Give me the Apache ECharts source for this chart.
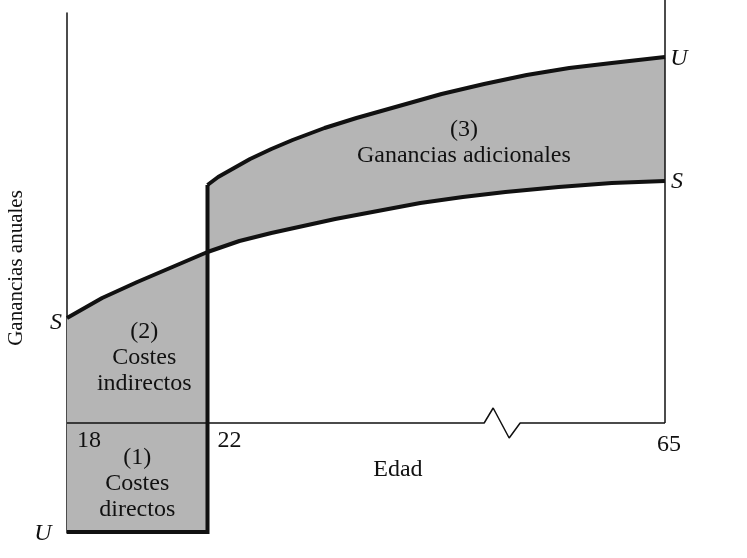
<!DOCTYPE html>
<html lang="es">
<head>
<meta charset="utf-8">
<title>Ganancias anuales por edad</title>
<script src="https://cdn.jsdelivr.net/npm/echarts@6.0.0/dist/echarts.min.js"></script>
<style>
  html, body { margin: 0; padding: 0; background: #fff; }
  #chart { width: 747px; height: 558px; }
</style>
</head>
<body>
<div id="chart"></div>
<script>
// edades marcadas en el eje horizontal
const tickAges = [18, 22, 65];
const ageAxisName = 'Edad';
const ageAxisNameAt = 39.9;

// perfil S: trabaja desde los 18
const sAges = [18, 19, 20, 21, 22, 25, 28, 31, 34, 38, 42, 46, 50, 55, 60, 65];
const sEarnings = [10.5, 12.5, 14.1, 15.6, 17.1, 18.2, 19.0, 19.7, 20.4, 21.2, 22.0, 22.6, 23.1, 23.6, 24.0, 24.2];

// perfil U: estudia de 18 a 22 (costes directos) y luego trabaja
const uAges = [22, 23, 24, 26, 28, 30, 33, 36, 40, 44, 48, 52, 56, 60, 65];
const uEarnings = [23.8, 24.6, 25.2, 26.4, 27.4, 28.3, 29.5, 30.5, 31.7, 32.9, 33.9, 34.8, 35.5, 36.0, 36.6];
const directCost = -10.9;

const regionLabels = ['(1)\nCostes\ndirectos', '(2)\nCostes\nindirectos', '(3)\nGanancias adicionales'];
const regionAges = [20.0, 20.2, 46.1];
const regionValues = [-6.1, 6.55, 28.0];

const tagLabels = ['S', 'U', 'U', 'S'];

// the age axis is broken: 18-22 drawn wide, 22-65 squeezed
const studyWidth = 140.5;
const workWidth = 457.5;
const breakAge = 49.6;

const [startAge, gradAge, retireAge] = tickAges;

function agePos(age) {
  if (age <= gradAge) {
    return ((age - startAge) / (gradAge - startAge)) * studyWidth;
  }
  return studyWidth + ((age - gradAge) / (retireAge - gradAge)) * workWidth;
}

const ink = '#111111';
const fill = '#b5b5b5';
const serif = 'Liberation Serif';

const sLine = sAges.map((age, i) => [agePos(age), sEarnings[i]]);
const uLine = uAges.map((age, i) => [agePos(age), uEarnings[i]]);
const sStudy = sLine.filter((_, i) => sAges[i] <= gradAge);
const sWork = sLine.filter((_, i) => sAges[i] >= gradAge);
const x0 = agePos(startAge);
const xGrad = agePos(gradAge);
const xEnd = agePos(retireAge);

const regions = [
  [[x0, 0], [xGrad, 0], [xGrad, directCost], [x0, directCost]],
  [...sStudy, [xGrad, 0], [x0, 0]],
  [...uLine, ...sWork.slice().reverse()],
];

// zigzag on the age axis, offsets in axis units
const zigDx = [-17, -8, 8, 19];
const zigDy = [0, 1.5, -1.5, 0];
const breakPos = agePos(breakAge);
const axisLine = [
  [x0, 0],
  ...zigDx.map((dx, i) => [breakPos + dx, zigDy[i]]),
  [xEnd, 0],
];

const tickOffsets = [[22, 18], [22, 18], [4, 22], [0, 47]];
const tagPoints = [
  [x0, sEarnings[0]],
  [x0, directCost],
  [xEnd, uEarnings[uEarnings.length - 1]],
  [xEnd, sEarnings[sEarnings.length - 1]],
];
const tagOffsets = [[-11, 5], [-24, 2], [14, 2], [12, 1]];

const chart = echarts.init(document.getElementById('chart'));

const labelSeries = (points, texts, offsets, extra) => ({
  type: 'scatter',
  silent: true,
  symbolSize: 0,
  itemStyle: { color: 'transparent', opacity: 1 },
  data: points.map((p, i) => ({
    value: p,
    label: {
      formatter: texts[i],
      offset: offsets ? offsets[i] : [0, 0],
    },
  })),
  label: {
    show: true,
    position: 'inside',
    color: ink,
    opacity: 1,
    fontFamily: serif,
    fontSize: 24,
    ...extra,
  },
  z: 6,
});

const curve = (name, data) => ({
  type: 'line',
  name,
  silent: true,
  data,
  symbol: 'none',
  lineStyle: { color: ink, width: 4, join: 'round' },
  z: 4,
});

chart.setOption({
  animation: false,
  backgroundColor: '#ffffff',
  textStyle: { fontFamily: serif },
  grid: {
    left: 67,
    right: 82,
    top: 13,
    bottom: 25,
    containLabel: false,
    outerBoundsMode: 'none',
  },
  xAxis: {
    type: 'value',
    min: 0,
    max: xEnd,
    axisLine: { show: false },
    axisTick: { show: false },
    axisLabel: { show: false },
    splitLine: { show: false },
  },
  yAxis: {
    type: 'value',
    min: -11,
    max: 41,
    name: 'Ganancias anuales',
    nameLocation: 'middle',
    nameRotate: 90,
    nameGap: 40,
    nameTextStyle: { color: ink, fontFamily: serif, fontSize: 21, padding: [0, 0, 0, 10] },
    axisLine: { show: true, lineStyle: { color: ink, width: 1.5 } },
    axisTick: { show: false },
    axisLabel: { show: false },
    splitLine: { show: false },
  },
  series: [
    {
      type: 'custom',
      silent: true,
      data: regions.map(() => [0, 0]),
      renderItem: (params, api) => ({
        type: 'polygon',
        shape: { points: regions[params.dataIndex].map((p) => api.coord(p)) },
        style: { fill },
      }),
      z: 1,
    },
    {
      type: 'line',
      silent: true,
      data: axisLine,
      symbol: 'none',
      lineStyle: { color: ink, width: 1.5 },
      z: 3,
    },
    {
      type: 'line',
      silent: true,
      clip: false,
      data: [[xEnd, 0], [xEnd, 43]],
      symbol: 'none',
      lineStyle: { color: ink, width: 1.5 },
      z: 3,
    },
    curve('S', sLine),
    {
      type: 'line',
      name: 'U costes',
      silent: true,
      data: [[x0, directCost], [xGrad, directCost], uLine[0]],
      symbol: 'none',
      lineStyle: { color: ink, width: 4, join: 'miter' },
      z: 4,
    },
    curve('U', uLine),
    // age ticks plus the axis title
    labelSeries(
      [...tickAges, ageAxisNameAt].map((age) => [agePos(age), 0]),
      [...tickAges.map(String), ageAxisName],
      tickOffsets,
    ),
    labelSeries(
      regionAges.map((age, i) => [agePos(age), regionValues[i]]),
      regionLabels,
      null,
      { lineHeight: 26, align: 'center' },
    ),
    labelSeries(tagPoints, tagLabels, tagOffsets, { fontStyle: 'italic' }),
  ],
});
</script>
</body>
</html>
